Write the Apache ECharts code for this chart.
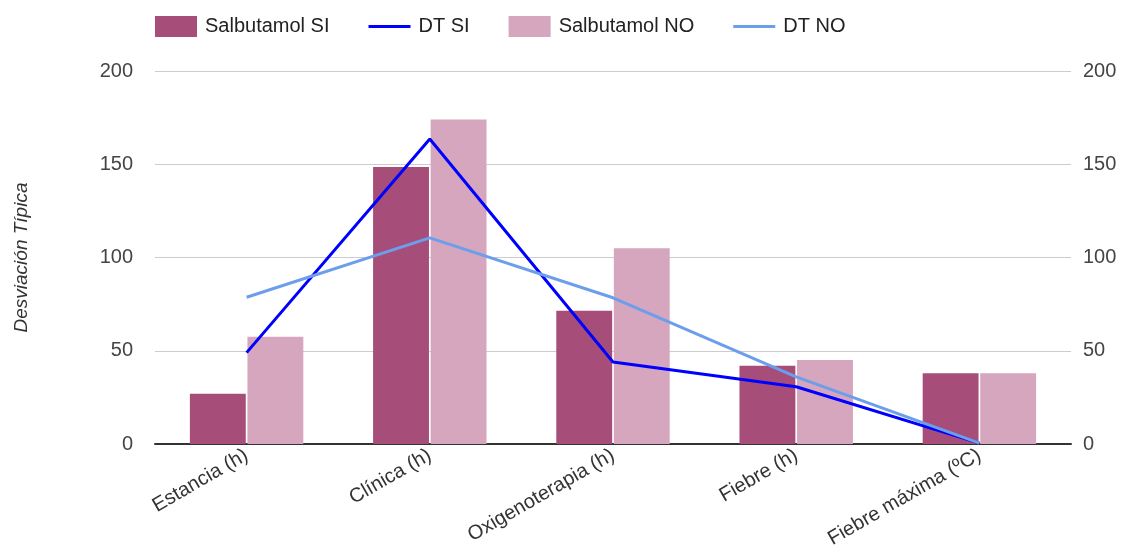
<!DOCTYPE html>
<html>
<head>
<meta charset="utf-8">
<script src="https://cdn.jsdelivr.net/npm/echarts@6/dist/echarts.min.js"></script>
<style>
	html, body { margin: 0; padding: 0; background: #fff; }
	#main { width: 1134px; height: 555px; }
</style>
</head>
<body>
<div id="main"></div>
<script>
	// categorias del eje x
	var categorias = ['Estancia (h)', 'Clínica (h)', 'Oxigenoterapia (h)', 'Fiebre (h)', 'Fiebre máxima (ºC)'];
	// barras
	var salbutamolSI = [27, 148.5, 71.5, 42, 38];
	var salbutamolNO = [57.5, 174, 105, 45, 38];
	// lineas
	var dtSI = [49, 163.5, 44, 30.7, 0.5];
	var dtNO = [78.7, 110.5, 78.4, 36, 0.5];

	var fuente = 'Liberation Sans, Arial, sans-serif';
	var iconoLinea = 'path://M0 0 H42 V3 H0 Z';
	var myChart = echarts.init(document.getElementById('main'));

	var option = {
		animation: false,
		textStyle: { fontFamily: fuente },
		legend: {
			top: 11,
			left: 150,
			itemWidth: 42,
			itemHeight: 21,
			itemGap: 39,
			textStyle: { fontSize: 20, color: '#222', fontFamily: fuente, padding: [0, 0, 0, 3] },
			data: [
				{ name: 'Salbutamol SI', icon: 'rect' },
				{ name: 'DT SI', icon: iconoLinea },
				{ name: 'Salbutamol NO', icon: 'rect' },
				{ name: 'DT NO', icon: iconoLinea }
			]
		},
		grid: { left: 155, right: 63, top: 71, bottom: 111 },
		xAxis: {
			type: 'category',
			data: categorias,
			axisTick: { show: false },
			axisLine: { lineStyle: { color: '#333', width: 2 } },
			axisLabel: {
				interval: 0,
				rotate: 30,
				margin: 10,
				fontSize: 20,
				color: '#333'
			}
		},
		yAxis: [
			{
				type: 'value',
				min: 0, max: 200, interval: 50,
				name: 'Desviación Típica',
				nameLocation: 'middle',
				nameGap: 124,
				nameTextStyle: { fontSize: 19, fontStyle: 'italic', color: '#333' },
				axisLabel: { fontSize: 20, color: '#444', margin: 22 },
				axisLine: { show: false },
				axisTick: { show: false },
				splitLine: { lineStyle: { color: '#ccc', width: 1 } }
			},
			{
				type: 'value',
				min: 0, max: 200, interval: 50,
				position: 'right',
				axisLabel: { fontSize: 20, color: '#444', margin: 12 },
				axisLine: { show: false },
				axisTick: { show: false },
				splitLine: { show: false }
			}
		],
		series: [
			{
				name: 'Salbutamol SI',
				type: 'bar',
				data: salbutamolSI,
				barWidth: '30.5%',
				barGap: '3%',
				itemStyle: { color: '#a64d79' }
			},
			{
				name: 'Salbutamol NO',
				type: 'bar',
				data: salbutamolNO,
				barWidth: '30.5%',
				itemStyle: { color: '#d5a6bd' }
			},
			{
				name: 'DT SI',
				type: 'line',
				yAxisIndex: 1,
				data: dtSI,
				symbol: 'none',
				lineStyle: { color: '#0000ff', width: 3 },
				itemStyle: { color: '#0000ff' }
			},
			{
				name: 'DT NO',
				type: 'line',
				yAxisIndex: 1,
				data: dtNO,
				symbol: 'none',
				lineStyle: { color: '#6d9eeb', width: 3 },
				itemStyle: { color: '#6d9eeb' }
			}
		]
	};
	myChart.setOption(option);
</script>
</body>
</html>
